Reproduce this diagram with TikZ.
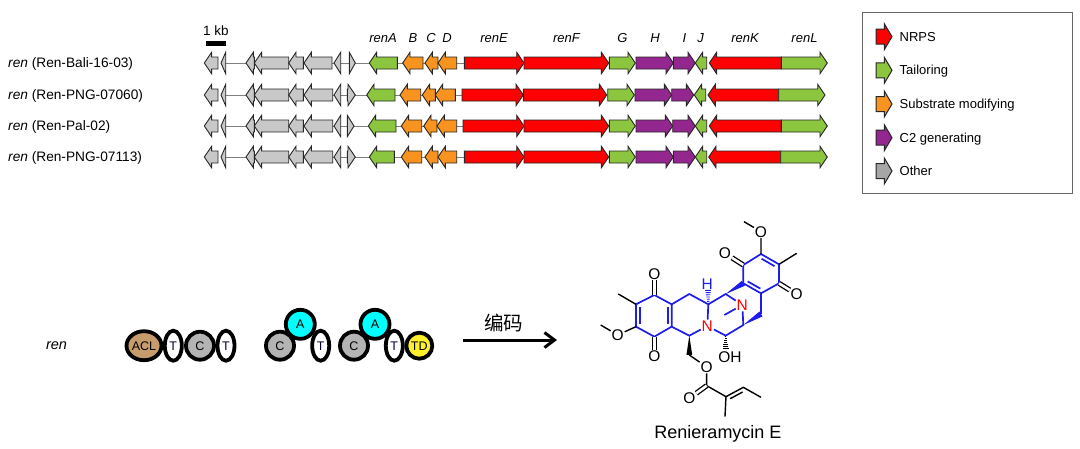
\documentclass[tikz,border=0pt]{standalone}
\usepackage{fontspec}
\setmainfont{Liberation Sans}
\newfontfamily\cjk{Noto Sans CJK SC}
\usetikzlibrary{arrows.meta,calc,shapes.geometric}
\definecolor{nrpsred}{HTML}{FF0000}
\definecolor{tailgreen}{HTML}{8CC63F}
\definecolor{suborange}{HTML}{F7931E}
\definecolor{ctwopurple}{HTML}{93278F}
\definecolor{othergray}{HTML}{C8C8C8}
\definecolor{aclbrown}{HTML}{C69C6D}
\definecolor{tdyellow}{HTML}{FFF02A}
\definecolor{bondblue}{HTML}{1C1CEB}
\definecolor{acyan}{HTML}{00FFFF}
\tikzset{
  >=stealth,
  line cap=round,
  line join=round,
  gene/.style={draw=black!85, line width=0.9pt, line join=miter},
  genelabel/.style={font=\fontsize{13}{15}\selectfont\itshape},
  rowlabel/.style={anchor=base west, inner sep=0pt, font=\fontsize{13.7}{16}\selectfont},
  legendlabel/.style={anchor=base west, inner sep=0pt, font=\fontsize{13}{15}\selectfont},
  dombox/.style={draw, ellipse, line width=3.8pt, inner sep=0pt, font=\fontsize{12.5}{14}\selectfont},
  acldom/.style={dombox, fill=aclbrown, minimum width=35pt, minimum height=29pt},
  tdom/.style={dombox, fill=white, text=black!80!blue, minimum width=17pt, minimum height=30pt},
  cdom/.style={dombox, fill=othergray!90!black, minimum width=28pt, minimum height=28pt},
  adom/.style={dombox, fill=acyan, minimum width=29pt, minimum height=29pt},
  tddom/.style={dombox, fill=tdyellow, minimum width=26pt, minimum height=26pt},
  bond/.style={line width=1.4pt},
  ring/.style={line width=1.7pt, draw=bondblue},
  dbl/.style={line width=1.3pt, double, double distance=2.6pt, line cap=butt},
  atom/.style={inner sep=0.8pt, font=\fontsize{15.5}{17}\selectfont}
}
% gene arrow: start, end, row, colour
\newcommand{\gene}[4]{
  \pgfmathsetmacro{\dirx}{(#2>#1)?1:-1}
  \pgfmathsetmacro{\headx}{abs(#2-#1)<7.3 ? #1 : #2-7.3*\dirx}
  \draw[gene, fill=#4] (#1,#3-6) -- (\headx,#3-6) -- (\headx,#3-10.7) -- (#2,#3)
    -- (\headx,#3+10.7) -- (\headx,#3+6) -- (#1,#3+6) -- cycle;
}
% legend arrow: row, colour
\newcommand{\legendarrow}[2]{
  \draw[gene, line width=1pt, fill=#2] (876,#1-7.5) -- (884.3,#1-7.5) -- (884.3,#1-13) -- (892,#1)
    -- (884.3,#1+13) -- (884.3,#1+7.5) -- (876,#1+7.5) -- cycle;
}
% second line of a double bond inside a ring
\newcommand{\innerbond}[3]{
  \draw[ring] ($(#1)!.14!(#2)!#3!90:(#2)$) -- ($(#2)!.14!(#1)!#3!-90:(#1)$);
}
\newcommand{\wedgebond}[3]{
  \fill[#3] (#1) -- ($(#2)!2.9pt!90:(#1)$) -- ($(#2)!2.9pt!-90:(#1)$) -- cycle;
}
\newcommand{\hashbond}[3]{
  \foreach \t [evaluate=\t as \hw using 0.6+2.4*\t] in {.05,.2,...,.95}
    \draw[line width=0.9pt, #3, line cap=butt] ($(#1)!\t!(#2)!\hw pt!90:(#2)$) -- ($(#1)!\t!(#2)!\hw pt!-90:(#2)$);
}
\begin{document}
\begin{tikzpicture}[x=1pt,y=-1pt]
  \useasboundingbox (0,0) rectangle (1080,448);

  % strain names
  \node[rowlabel] (rowa) at (8,67.5) {\textit{ren} (Ren-Bali-16-03)};
  \node[rowlabel] (rowb) at (8,99.5) {\textit{ren} (Ren-PNG-07060)};
  \node[rowlabel] (rowc) at (8,130.5) {\textit{ren} (Ren-Pal-02)};
  \node[rowlabel] (rowd) at (8,161.5) {\textit{ren} (Ren-PNG-07113)};

  % scale bar
  \fill[black] (206,40.7) rectangle (226,46);
  \node[font=\fontsize{13.5}{15}\selectfont] (scale) at (216,30.5) {1 kb};

  % gene names
  \node[genelabel] (rena) at (383,38.5) {renA};
  \node[genelabel] (renb) at (413,38.5) {B};
  \node[genelabel] (renc) at (431,38.5) {C};
  \node[genelabel] (rend) at (447,38.5) {D};
  \node[genelabel] (rene) at (494,38.5) {renE};
  \node[genelabel] (renf) at (566.5,38.5) {renF};
  \node[genelabel] (reng) at (622.5,38.5) {G};
  \node[genelabel] (renh) at (655,38.5) {H};
  \node[genelabel] (reni) at (684.5,38.5) {I};
  \node[genelabel] (renj) at (700.5,38.5) {J};
  \node[genelabel] (renk) at (745,38.5) {renK};
  \node[genelabel] (renl) at (804.5,38.5) {renL};

  % genes shared by all rows
  \foreach \rowy in {63,95,126,157} {
    \draw[black!50, line width=0.8pt] (222,\rowy) -- (466,\rowy);
    \foreach \xa/\xb in {218/204.3, 225.7/221, 254.3/246, 288.7/254.3, 303.3/288.7} {
      \gene{\xa}{\xb}{\rowy}{othergray}
    }
  }
  % row 1
  \foreach \xa/\xb/\col in {332/304/othergray, 340.7/334/othergray, 349.3/355.3/othergray,
      397.3/369.3/tailgreen, 423/402.7/suborange, 438/425/suborange, 456.7/438/suborange,
      464.3/524/nrpsred, 524/608.7/nrpsred, 609.3/635.3/tailgreen, 636/673.3/ctwopurple,
      673.3/695.3/ctwopurple, 706.7/695.3/tailgreen, 781.3/709.3/nrpsred, 781.3/827.3/tailgreen} {
    \gene{\xa}{\xb}{63}{\col}
  }
  % row 2
  \foreach \xa/\xb/\col in {332.7/304/othergray, 340.7/334/othergray, 347.3/355.3/othergray,
      395/366.7/tailgreen, 420.7/400/suborange, 435.3/422.3/suborange, 455.3/435.3/suborange,
      462/523.3/nrpsred, 523.3/606.7/nrpsred, 607.7/634.3/tailgreen, 635/671.7/ctwopurple,
      671.7/693.7/ctwopurple, 705.7/694.3/tailgreen, 778.7/708/nrpsred, 778.7/825/tailgreen} {
    \gene{\xa}{\xb}{95}{\col}
  }
  % row 3
  \foreach \xa/\xb/\col in {332.7/304/othergray, 340.7/334/othergray, 347.3/354/othergray,
      396/368.3/tailgreen, 421.7/401.3/suborange, 437/423.7/suborange, 456.7/437/suborange,
      463/524/nrpsred, 524/608.7/nrpsred, 609.3/635.3/tailgreen, 636/672.7/ctwopurple,
      672.7/695.3/ctwopurple, 706.7/695.3/tailgreen, 781.3/709.3/nrpsred, 781.3/827.3/tailgreen} {
    \gene{\xa}{\xb}{126}{\col}
  }
  % row 4
  \foreach \xa/\xb/\col in {332.7/304/othergray, 340.7/334/othergray, 347.3/355.3/othergray,
      394.3/369.3/tailgreen, 421.7/401.3/suborange, 438/425/suborange, 456.7/438/suborange,
      464.3/524/nrpsred, 524/608.7/nrpsred, 609.3/635.3/tailgreen, 636/673.3/ctwopurple,
      673.3/695.3/ctwopurple, 706.7/695.3/tailgreen, 780.7/708.7/nrpsred, 780.7/827.3/tailgreen} {
    \gene{\xa}{\xb}{157}{\col}
  }

  % legend
  \node[draw=black!60, line width=1pt, minimum width=210pt, minimum height=181pt, inner sep=0pt] (legend) at (967.3,102.8) {};
  \legendarrow{36.7}{nrpsred}
  \legendarrow{70.3}{tailgreen}
  \legendarrow{104}{suborange}
  \legendarrow{137.7}{ctwopurple}
  \legendarrow{171}{black!35}
  \node[legendlabel] (nrps) at (899.5,41) {NRPS};
  \node[legendlabel] (tailoring) at (899.5,74.5) {Tailoring};
  \node[legendlabel] (substrate) at (899.5,108) {Substrate modifying};
  \node[legendlabel] (ctwo) at (899.5,142) {C2 generating};
  \node[legendlabel] (other) at (899.5,175) {Other};

  % assembly line
  \node[font=\fontsize{14.5}{16}\selectfont\itshape] (ren) at (56.5,346) {ren};
  \node[tdom] (ta) at (173.3,345.7) {T};
  \node[acldom] (acl) at (144,345.7) {ACL};
  \node[cdom] (ca) at (200,345.7) {C};
  \node[tdom] (tb) at (226,345.7) {T};
  \node[cdom] (cb) at (280,345.7) {C};
  \node[tdom] (tc) at (320.7,345.7) {T};
  \node[adom] (aa) at (300.3,324.3) {A};
  \node[tdom] (td) at (394.3,345.7) {T};
  \node[cdom] (cc) at (354,345.7) {C};
  \node[adom] (ab) at (375,324.3) {A};
  \node[tddom] (tde) at (419.3,345.7) {TD};

  % encoding arrow
  \node[font=\fontsize{19.5}{22}\selectfont\cjk] (code) at (503.5,322.5) {编码};
  \coordinate (arrowa) at (463,340);
  \coordinate (arrowb) at (557,340);
  \draw[-{Straight Barb[length=10pt,width=15pt]}, line width=3pt, line cap=butt] (arrowa) -- (arrowb);

  % Renieramycin E
  \begin{scope}[shift={(590,215)},x=0.3333pt,y=-0.3333pt]
    \coordinate (ca1) at (193,240);
    \coordinate (ca2) at (245,268);
    \coordinate (ca3) at (245,335);
    \coordinate (ca4) at (193,365);
    \coordinate (ca5) at (138,335);
    \coordinate (ca6) at (138,268);
    \coordinate (mea) at (85,237);
    \coordinate (ome) at (32,330);
    \coordinate (cb1) at (298,237);
    \coordinate (cb2) at (355,268);
    \coordinate (cb3) at (298,362);
    \coordinate (cb4) at (298,420);
    \coordinate (cb5) at (407,362);
    \coordinate (cb6) at (460,330);
    \coordinate (cb7) at (407,237);
    \coordinate (cb8) at (513,297);
    \coordinate (cc1) at (513,235);
    \coordinate (cc2) at (460,205);
    \coordinate (cc3) at (460,150);
    \coordinate (cc4) at (513,117);
    \coordinate (cc5) at (567,148);
    \coordinate (cc6) at (567,205);
    \coordinate (meb) at (620,115);
    \coordinate (omf) at (462,20);
    \coordinate (cd1) at (350,512);
    \coordinate (cd2) at (408,545);
    \coordinate (cd3) at (460,517);
    \coordinate (cd4) at (513,547);
    \coordinate (cd5) at (405,605);
    \coordinate (mec) at (403,300);
    \coordinate (hashoh) at (407,402);
    \coordinate (hashh) at (354,224);

    \node[atom] (oa) at (193,177) {O};
    \node[atom] (ob) at (193,425) {O};
    \node[atom] (oc) at (83,360) {O};
    \node[atom] (od) at (513,50) {O};
    \node[atom] (oe) at (405,115) {O};
    \node[atom] (of) at (620,238) {O};
    \node[atom] (og) at (350,456) {O};
    \node[atom] (oh) at (298,550) {O};
    \node[atom, anchor=north] (ohy) at (420,408) {OH};
    \node[atom, text=red] (na) at (352,333) {N};
    \node[atom, text=red] (nb) at (457,270) {N};
    \node[atom, text=bondblue] (ha) at (352,207) {H};

    % left quinone and middle ring
    \draw[ring] (ca1) -- (ca2) -- (ca3) -- (ca4) -- (ca5) -- (ca6) -- cycle;
    \draw[ring] (ca2) -- (cb1) -- (cb2) -- (na) -- (cb3) -- (ca3);
    \innerbond{ca5}{ca6}{-3.8pt}
    \innerbond{ca2}{ca3}{-3.8pt}
    \draw[dbl] (ca1) -- (oa);
    \draw[dbl] (ca4) -- (ob);
    \draw[bond] (ca6) -- (mea);
    \draw[bond] (ca5) -- (oc) -- (ome);

    % bridge
    \draw[ring] (na) -- (cb5) -- (cb6) -- (nb) -- (cb7) -- (cb2);
    \draw[ring] (nb) -- (mec);
    \draw[ring] (cb8) -- (cc1);
    \wedgebond{cb6}{cb8}{bondblue}
    \wedgebond{cb7}{cc2}{bondblue}

    % right quinone
    \draw[ring] (cc1) -- (cc2) -- (cc3) -- (cc4) -- (cc5) -- (cc6) -- cycle;
    \innerbond{cc2}{cc1}{3.8pt}
    \innerbond{cc4}{cc5}{-3.8pt}
    \draw[dbl] (cc3) -- (oe);
    \draw[dbl] (cc6) -- (of);
    \draw[bond] (cc5) -- (meb);
    \draw[bond] (cc4) -- (od) -- (omf);

    % stereo bonds at the centre
    \hashbond{cb2}{hashh}{bondblue}
    \hashbond{cb5}{hashoh}{black}
    \wedgebond{cb3}{cb4}{black}

    % ester side chain
    \draw[bond] (cb4) -- (og) -- (cd1) -- (cd2) -- (cd5);
    \draw[dbl] (cd1) -- (oh);
    \draw[bond] (cd2) -- (cd3) -- (cd4);
    \draw[bond] ($(cd2)!.14!(cd3)!3.8pt!-90:(cd3)$) -- ($(cd3)!.14!(cd2)!3.8pt!90:(cd2)$);
  \end{scope}
  \node[font=\fontsize{18}{20}\selectfont] (name) at (718,433.5) {Renieramycin E};
\end{tikzpicture}
\end{document}
